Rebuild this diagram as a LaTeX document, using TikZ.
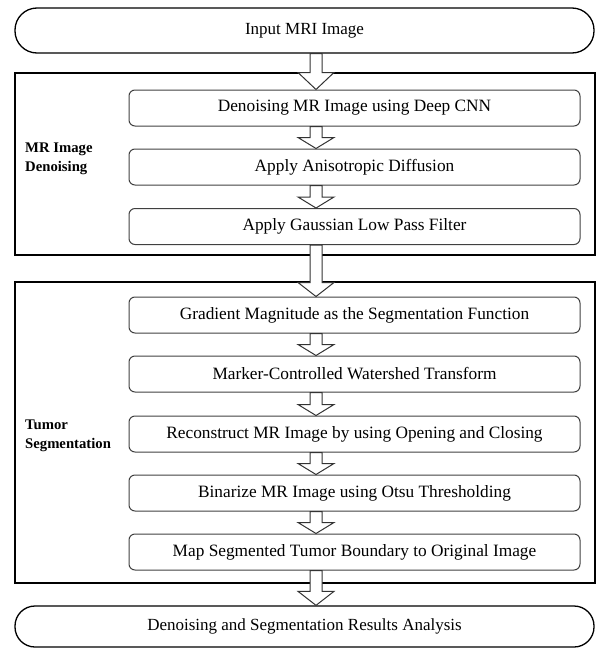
\documentclass[tikz,border=0pt]{standalone}
\usepackage{fontspec}
\setmainfont{Liberation Serif}
\usetikzlibrary{calc}
\tikzset{
	term/.style={draw,line width=1.3pt,rounded corners=22pt,minimum width=579pt,minimum height=45pt,inner sep=0pt,font=\fontsize{17}{20}\selectfont},
	stage/.style={draw,line width=1.8pt,minimum width=580pt,inner sep=0pt},
	proc/.style={draw=black!75,line width=1pt,rounded corners=6pt,minimum width=451pt,minimum height=36pt,inner sep=0pt,font=\fontsize{17.3}{20}\selectfont},
	glabel/.style={anchor=west,align=left,inner sep=0pt,font=\fontsize{14.7}{19}\selectfont\bfseries},
	barrow/.style={draw=black!80,line width=1pt,fill=white,line join=miter}
}
% block arrow: from node, to node, head length
\newcommand{\blockarrow}[3]{%
	\draw [barrow] ($(#1.south -| ax)+(-6,0)$) -- ($(#2.north -| ax)+(-6,-#3)$) -- ($(#2.north -| ax)+(-18,-#3)$)
		-- (#2.north -| ax) -- ($(#2.north -| ax)+(18,-#3)$) -- ($(#2.north -| ax)+(6,-#3)$) -- ($(#1.south -| ax)+(6,0)$) -- cycle;
}

\begin{document}
\begin{tikzpicture}[x=1pt,y=-1pt]
	\useasboundingbox (0,0) rectangle (598,648);
	\coordinate (ax) at (316,0);

	% input / output
	\node [term] (input) at (304.5,30.5) {Input MRI Image};
	\node [term,minimum height=41pt,rounded corners=20pt] (output) at (304.5,626.5) {Denoising and Segmentation Results Analysis};

	% stages
	\node [stage,minimum height=182pt] (den) at (305,164) {};
	\node [stage,minimum height=301pt] (seg) at (305,432.5) {};
	\node [glabel] (denlab) at (25,159) {MR Image\\Denoising};
	\node [glabel] (seglab) at (25,436) {Tumor\\Segmentation};

	% steps
	\node [proc] (d1) at (354.5,108) {Denoising MR Image using Deep CNN};
	\node [proc] (d2) at (354.5,167) {Apply Anisotropic Diffusion};
	\node [proc] (d3) at (354.5,226.5) {Apply Gaussian Low Pass Filter};

	\node [proc] (s1) at (354.5,315) {Gradient Magnitude as the Segmentation Function};
	\node [proc] (s2) at (354.5,374) {Marker-Controlled Watershed Transform};
	\node [proc] (s3) at (354.5,434) {Reconstruct MR Image by using Opening and Closing};
	\node [proc] (s4) at (354.5,493) {Binarize MR Image using Otsu Thresholding};
	\node [proc] (s5) at (354.5,552) {Map Segmented Tumor Boundary to Original Image};

	% arrows
	\blockarrow{input}{d1}{17}
	\blockarrow{d1}{d2}{11}
	\blockarrow{d2}{d3}{11}
	\blockarrow{d3}{s1}{14}
	\blockarrow{s1}{s2}{11}
	\blockarrow{s2}{s3}{11}
	\blockarrow{s3}{s4}{11}
	\blockarrow{s4}{s5}{11}
	\blockarrow{s5}{output}{14}
\end{tikzpicture}
\end{document}
